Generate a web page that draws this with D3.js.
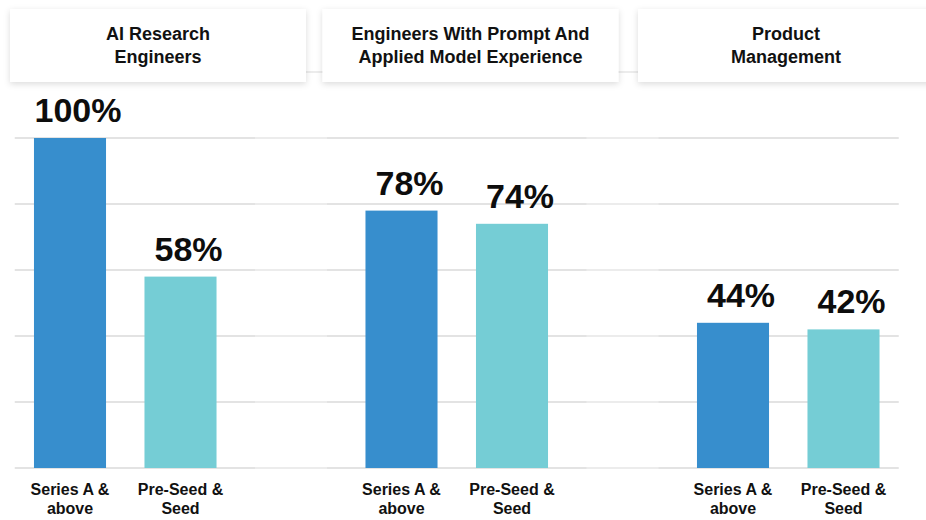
<!DOCTYPE html>
<html>
<head>
<meta charset="utf-8">
<script src="https://cdn.jsdelivr.net/npm/d3@7"></script>
<style>
  html, body { margin: 0; padding: 0; background: #ffffff; }
  svg { display: block; font-family: "Liberation Sans", Arial, Helvetica, sans-serif; }
</style>
</head>
<body>
<svg id="chart" width="926" height="520"></svg>
<script>
// Hiring demand by role, split by funding stage (share of companies)
const groups = ["AI Research Engineers", "Engineers With Prompt And Applied Model Experience", "Product Management"];
const groupTitleLines = [["AI Research", "Engineers"], ["Engineers With Prompt And", "Applied Model Experience"], ["Product", "Management"]];
const stages = ["Series A & above", "Pre-Seed & Seed"];
const stageLines = [["Series A &", "above"], ["Pre-Seed &", "Seed"]];
const seriesA = [100, 78, 44];
const preSeed = [58, 74, 42];
const yTicks = [0, 20, 40, 60, 80, 100, 120];

const colors = { "Series A & above": "#378ecd", "Pre-Seed & Seed": "#75cdd5" };

const W = 926, H = 520;
const svg = d3.select("#chart");

// Slots: two bars per group, with an empty spacer slot between groups
const slots = [];
groups.forEach((g, gi) => {
  stages.forEach((s, si) => {
    slots.push({ key: g + "|" + s, group: g, gi, stage: s, si, value: si === 0 ? seriesA[gi] : preSeed[gi] });
  });
  if (gi < groups.length - 1) slots.push({ key: g + "|spacer", spacer: true });
});

const x = d3.scaleBand()
  .domain(slots.map(d => d.key))
  .range([14.75, 898.75])
  .paddingInner(0.348)
  .paddingOuter(0.174);

const y = d3.scaleLinear().domain([0, 120]).range([468, 72]);

const defs = svg.append("defs");
const f = defs.append("filter").attr("id", "boxShadow")
  .attr("x", "-10%").attr("y", "-30%").attr("width", "120%").attr("height", "160%");
f.append("feDropShadow").attr("dx", 0).attr("dy", 2).attr("stdDeviation", 3)
  .attr("flood-color", "#000").attr("flood-opacity", 0.14);

// Gridlines
const grid = svg.append("g").attr("class", "grid");
const [r0, r1] = x.range();
yTicks.forEach(t => {
  grid.append("line")
    .attr("x1", r0).attr("x2", r1)
    .attr("y1", y(t)).attr("y2", y(t))
    .attr("stroke", "#dadada").attr("stroke-width", 1.5);
});
// Lighter gridline where the spacer slots sit
slots.filter(d => d.spacer).forEach(d => {
  yTicks.forEach(t => {
    grid.append("line")
      .attr("x1", x(d.key)).attr("x2", x(d.key) + x.bandwidth())
      .attr("y1", y(t)).attr("y2", y(t))
      .attr("stroke", "#efefef").attr("stroke-width", 1.5);
  });
});

const bars = slots.filter(d => !d.spacer);

// Bars
svg.append("g").selectAll("rect")
  .data(bars)
  .join("rect")
  .attr("x", d => x(d.key))
  .attr("y", d => y(d.value))
  .attr("width", x.bandwidth())
  .attr("height", d => y(0) - y(d.value))
  .attr("fill", d => colors[d.stage]);

// Value labels
svg.append("g").selectAll("text")
  .data(bars)
  .join("text")
  .attr("x", d => x(d.key) + x.bandwidth() / 2 + 8)
  .attr("y", d => y(d.value) - 16)
  .attr("text-anchor", "middle")
  .attr("font-size", 34)
  .attr("font-weight", 700)
  .attr("fill", "#0d0d0d")
  .text(d => d.value + "%");

// Category labels under each bar
const xl = svg.append("g").selectAll("text")
  .data(bars)
  .join("text")
  .attr("x", d => x(d.key) + x.bandwidth() / 2)
  .attr("y", 495)
  .attr("text-anchor", "middle")
  .attr("font-size", 16)
  .attr("font-weight", 700)
  .attr("fill", "#111");
xl.selectAll("tspan")
  .data(d => stageLines[d.si].map((line, i) => ({ line, i, cx: x(d.key) + x.bandwidth() / 2 })))
  .join("tspan")
  .attr("x", d => d.cx)
  .attr("dy", d => d.i === 0 ? 0 : 19)
  .text(d => d.line);

// Group header cards
const headerCenters = [158, 470.5, 786];
const headerW = 296, headerTop = 9, headerH = 73;
const headers = svg.append("g").selectAll("g")
  .data(groups)
  .join("g")
  .attr("transform", (d, i) => `translate(${headerCenters[i]},0)`);
headers.append("rect")
  .attr("x", -headerW / 2).attr("y", headerTop)
  .attr("width", headerW).attr("height", headerH)
  .attr("fill", "#fff")
  .attr("filter", "url(#boxShadow)");
headers.append("text")
  .attr("text-anchor", "middle")
  .attr("font-size", 18)
  .attr("font-weight", 700)
  .attr("fill", "#111")
  .selectAll("tspan")
  .data((d, i) => groupTitleLines[i])
  .join("tspan")
  .attr("x", 0)
  .attr("y", (d, i) => 40 + i * 23)
  .text(d => d);
</script>
</body>
</html>
